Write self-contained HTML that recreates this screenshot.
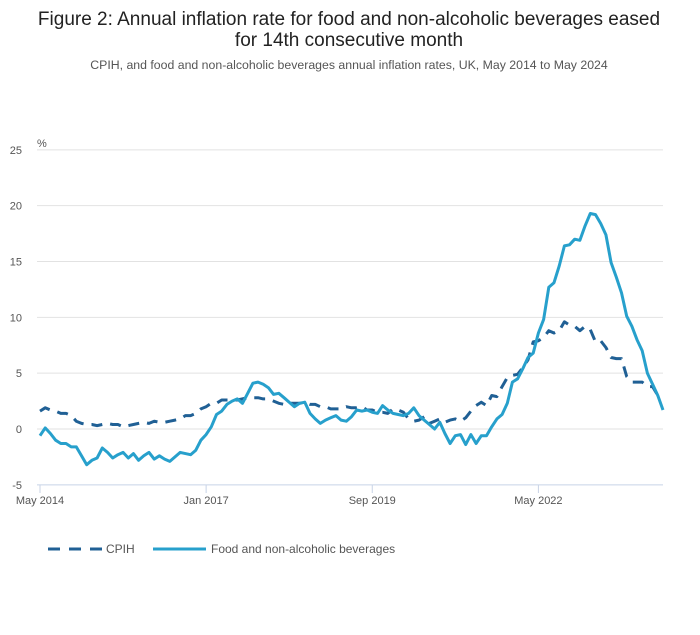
<!DOCTYPE html>
<html><head><meta charset="utf-8"><style>
body{margin:0;background:#fff;font-family:"Liberation Sans",sans-serif;}
#wrap{position:relative;width:700px;height:635px;overflow:hidden;}
</style></head><body>
<div id="wrap">
<svg id="chart" width="700" height="635" xmlns="http://www.w3.org/2000/svg">
<text x="349" y="25" text-anchor="middle" font-size="19" fill="#222">Figure 2: Annual inflation rate for food and non-alcoholic beverages eased</text>
<text x="349" y="46" text-anchor="middle" font-size="19" fill="#222">for 14th consecutive month</text>
<text x="349" y="69" text-anchor="middle" font-size="12.3" fill="#555">CPIH, and food and non-alcoholic beverages annual inflation rates, UK, May 2014 to May 2024</text>
<text x="37" y="147" font-size="11" fill="#555">%</text>
<g id="grid"></g><g id="series"></g>
<g>
<line x1="48" y1="549" x2="102" y2="549" stroke="#206095" stroke-width="3" stroke-dasharray="12,9"/>
<text x="106" y="553" font-size="12" fill="#555">CPIH</text>
<line x1="153" y1="549" x2="206" y2="549" stroke="#27a0cc" stroke-width="3"/>
<text x="211" y="553" font-size="12" fill="#555">Food and non-alcoholic beverages</text>
</g>
</svg></div>
<script>
const yTicks=[25,20,15,10,5,0,-5];
const xTickMonths=[0,32,64,96];
const xTickLabels=["May 2014","Jan 2017","Sep 2019","May 2022"];
const cpih=[1.6,1.9,1.7,1.6,1.4,1.4,1.2,0.7,
0.5,0.4,0.4,0.3,0.4,0.5,0.4,0.4,0.2,0.3,0.4,0.5,
0.6,0.5,0.7,0.6,0.6,0.7,0.8,0.9,1.2,1.2,1.4,1.8,
2.0,2.3,2.3,2.6,2.6,2.6,2.6,2.7,2.8,2.8,2.8,2.7,
2.7,2.5,2.3,2.2,2.3,2.3,2.3,2.4,2.2,2.2,2.0,2.0,
1.8,1.8,1.8,2.0,1.9,1.9,2.0,1.7,1.7,1.5,1.5,1.4,
1.8,1.7,1.5,0.9,0.7,0.8,1.1,0.5,0.7,0.9,0.6,0.8,
0.9,0.7,1.0,1.6,2.1,2.4,2.1,3.0,2.9,3.8,4.6,4.8,
4.9,5.5,6.2,7.8,7.9,8.2,8.8,8.6,8.8,9.6,9.3,9.2,
8.8,9.2,8.9,7.8,7.9,7.3,6.4,6.3,6.3,4.7,4.2,4.2,
4.2,3.8,3.8,3.0,2.8];
const food=[-0.6,0.1,-0.4,-1.0,-1.3,-1.3,-1.6,-1.6,-2.4,-3.2,
-2.8,-2.6,-1.7,-2.1,-2.6,-2.3,-2.1,-2.6,-2.2,-2.8,
-2.4,-2.1,-2.7,-2.4,-2.7,-2.9,-2.5,-2.1,-2.2,-2.3,
-1.9,-1.0,-0.5,0.2,1.3,1.6,2.2,2.5,2.7,2.3,
3.2,4.1,4.2,4.0,3.7,3.1,3.2,2.8,2.4,2.0,
2.3,2.4,1.4,0.9,0.5,0.8,1.0,1.2,0.8,0.7,
1.1,1.7,1.6,1.7,1.5,1.4,2.1,1.7,1.4,1.3,
1.2,1.4,1.9,1.2,0.8,0.4,0.0,0.6,-0.4,-1.3,
-0.6,-0.5,-1.4,-0.5,-1.3,-0.6,-0.6,0.2,0.9,1.3,
2.3,4.2,4.5,5.4,6.4,6.8,8.6,9.8,12.7,13.1,
14.6,16.4,16.5,17.0,16.9,18.2,19.3,19.2,18.4,17.4,
14.9,13.6,12.2,10.1,9.2,8.0,7.0,5.0,4.0,3.0,1.7];
const NS="http://www.w3.org/2000/svg";
const xS=m=>40+m*(623/120);
const yS=v=>429-v*(335/30);
const grid=document.getElementById('grid'),ser=document.getElementById('series');
yTicks.forEach(t=>{
 const l=document.createElementNS(NS,'line');
 
 
 l.setAttribute('x1',37);l.setAttribute('x2',663);l.setAttribute('y1',yS(t));l.setAttribute('y2',yS(t));
 l.setAttribute('stroke',t===-5?'#c8d3e6':'#e2e2e2');l.setAttribute('stroke-width',1);
 grid.appendChild(l);
 const tx=document.createElementNS(NS,'text');
 
 
 tx.setAttribute('x',22);tx.setAttribute('y',yS(t)+4);tx.setAttribute('text-anchor','end');
 tx.setAttribute('font-size','11');tx.setAttribute('fill','#555');tx.textContent=t;
 grid.appendChild(tx);
});
xTickMonths.forEach((m,i)=>{
 const l=document.createElementNS(NS,'line');
 
 
 l.setAttribute('x1',xS(m));l.setAttribute('x2',xS(m));l.setAttribute('y1',485);l.setAttribute('y2',493);
 l.setAttribute('stroke','#c8d3e6');grid.appendChild(l);
 const tx=document.createElementNS(NS,'text');
 
 
 tx.setAttribute('x',xS(m));tx.setAttribute('y',504);tx.setAttribute('text-anchor','middle');
 tx.setAttribute('font-size','11');tx.setAttribute('fill','#555');tx.textContent=xTickLabels[i];
 grid.appendChild(tx);
});
function line(arr,color,dash,name){
 const p=document.createElementNS(NS,'polyline');
 
 
 p.setAttribute('points',arr.map((v,i)=>xS(i).toFixed(1)+','+yS(v).toFixed(1)).join(' '));
 p.setAttribute('fill','none');p.setAttribute('stroke',color);p.setAttribute('stroke-width',3);
 p.setAttribute('stroke-linejoin','round');
 if(dash)p.setAttribute('stroke-dasharray',dash);
 ser.appendChild(p);
}
line(cpih,'#206095','11,8','cpih-line');
line(food,'#27a0cc',null,'food-line');
</script>
</body></html>
